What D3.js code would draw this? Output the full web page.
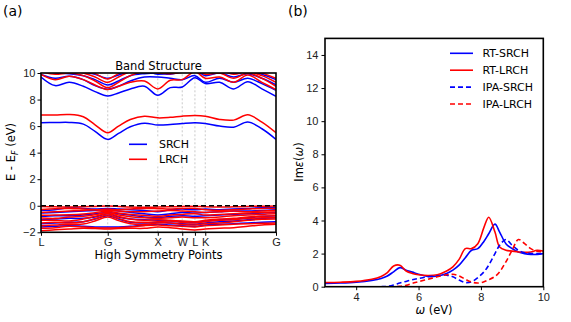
<!DOCTYPE html>
<html>
<head>
<meta charset="utf-8">
<script src="https://cdn.jsdelivr.net/npm/d3@7"></script>
<style>
  body { margin: 0; background: #fff; }
  svg { display: block; font-family: "DejaVu Sans", sans-serif; }
  .tick text { font-size: 11px; fill: #222; }
</style>
</head>
<body>
<svg id="chart" width="571" height="322"></svg>
<script>
// --- band structure data (path coordinate 0..1) ---
const kTicks = [0, 0.284, 0.497, 0.601, 0.655, 0.699, 1.0];
const kLabels = ["L", "G", "X", "W", "L", "K", "G"];
const kGrid = [0, 0.06, 0.12, 0.18, 0.23, 0.284, 0.33, 0.38, 0.44, 0.497, 0.55, 0.601, 0.655, 0.699, 0.76, 0.82, 0.88, 0.94, 1.0];

const srchConduction = [
  [6.26, 6.27, 6.28, 6.15, 5.6, 5.0, 5.45, 5.95, 6.22, 6.08, 6.12, 6.2, 6.26, 6.2, 6.0, 5.92, 6.3, 5.8, 5.0],
  [9.7, 9.05, 9.3, 9.0, 8.6, 8.27, 8.5, 8.8, 9.0, 8.32, 8.9, 8.95, 9.65, 9.2, 9.3, 8.8, 9.35, 8.8, 8.25],
  [9.9, 9.6, 9.75, 9.5, 9.05, 8.78, 9.0, 9.4, 9.7, 9.7, 9.6, 9.5, 9.8, 9.3, 9.6, 9.3, 9.6, 9.2, 8.7],
  [10.1, 10.0, 9.95, 9.8, 9.5, 9.1, 9.4, 9.8, 9.95, 10.0, 9.9, 10.1, 10.2, 9.8, 10.0, 9.7, 9.95, 9.6, 9.1],
  [10.4, 10.2, 10.1, 10.05, 9.9, 9.6, 9.85, 10.1, 10.2, 9.9, 10.05, 10.3, 10.4, 10.1, 10.2, 9.95, 10.2, 9.9, 9.5]
];
const lrchConduction = [
  [6.84, 6.84, 6.87, 6.7, 6.1, 5.5, 6.0, 6.5, 6.75, 6.62, 6.66, 6.75, 6.8, 6.75, 6.5, 6.45, 6.85, 6.3, 5.5],
  [9.9, 9.5, 9.75, 9.5, 9.1, 8.75, 9.0, 9.3, 9.4, 8.8, 9.45, 9.5, 10.1, 9.6, 9.7, 9.3, 9.85, 9.3, 8.75],
  [10.1, 9.9, 10.0, 9.8, 9.4, 8.9, 9.3, 9.8, 10.1, 10.0, 9.95, 10.05, 10.3, 9.9, 10.0, 9.6, 10.0, 9.6, 9.0],
  [10.3, 10.2, 10.2, 10.0, 9.7, 9.3, 9.7, 10.1, 10.3, 10.2, 10.2, 10.3, 10.4, 10.1, 10.2, 9.9, 10.1, 9.8, 9.3],
  [10.5, 10.3, 10.35, 10.2, 9.95, 9.55, 9.95, 10.3, 10.4, 10.35, 10.3, 10.45, 10.5, 10.25, 10.35, 10.05, 10.25, 10.0, 9.6]
];
const srchValence = [
  [-0.35, -0.3, -0.15, -0.2, -0.25, -0.2, -0.25, -0.3, -0.35, -0.45, -0.3, -0.25, -0.3, -0.25, -0.3, -0.25, -0.2, -0.15, -0.15],
  [-0.55, -0.5, -0.45, -0.4, -0.35, -0.3, -0.4, -0.5, -0.6, -0.7, -0.6, -0.5, -0.55, -0.5, -0.45, -0.4, -0.4, -0.35, -0.3],
  [-0.8, -0.75, -0.75, -0.7, -0.6, -0.5, -0.6, -0.7, -0.85, -0.9, -0.8, -0.75, -0.8, -0.75, -0.7, -0.65, -0.6, -0.55, -0.5],
  [-1.05, -1.0, -0.95, -0.95, -0.85, -0.6, -0.85, -1.0, -1.05, -1.1, -1.15, -1.2, -1.25, -1.15, -1.05, -1.0, -0.9, -0.8, -0.75],
  [-1.35, -1.3, -1.25, -1.2, -1.0, -0.75, -1.0, -1.25, -1.3, -1.25, -1.3, -1.35, -1.4, -1.3, -1.2, -1.15, -1.05, -0.95, -0.9],
  [-1.6, -1.55, -1.5, -1.55, -1.6, -1.6, -1.6, -1.55, -1.45, -1.4, -1.45, -1.5, -1.55, -1.45, -1.4, -1.35, -1.3, -1.25, -1.2]
];
const lrchValence = [
  [-0.05, -0.08, -0.1, -0.08, -0.05, -0.02, -0.05, -0.1, -0.12, -0.1, -0.08, -0.05, -0.05, -0.08, -0.1, -0.08, -0.05, -0.04, -0.02],
  [-0.28, -0.22, -0.2, -0.25, -0.3, -0.25, -0.3, -0.25, -0.2, -0.22, -0.25, -0.2, -0.2, -0.3, -0.35, -0.3, -0.25, -0.2, -0.2],
  [-0.5, -0.45, -0.4, -0.35, -0.3, -0.35, -0.4, -0.45, -0.45, -0.4, -0.35, -0.4, -0.45, -0.5, -0.45, -0.4, -0.45, -0.4, -0.35],
  [-0.72, -0.7, -0.68, -0.62, -0.52, -0.42, -0.55, -0.65, -0.72, -0.8, -0.7, -0.65, -0.6, -0.7, -0.65, -0.6, -0.55, -0.5, -0.48],
  [-0.92, -0.95, -0.85, -0.8, -0.68, -0.5, -0.7, -0.82, -0.9, -0.95, -0.9, -0.85, -0.9, -0.9, -0.85, -0.75, -0.7, -0.65, -0.6],
  [-1.1, -1.1, -1.15, -1.0, -0.8, -0.58, -0.8, -1.0, -1.1, -1.05, -1.1, -1.15, -1.2, -1.1, -1.0, -0.95, -0.85, -0.8, -0.75],
  [-1.3, -1.25, -1.3, -1.2, -0.98, -0.7, -0.95, -1.2, -1.25, -1.2, -1.15, -1.25, -1.3, -1.2, -1.1, -1.05, -0.95, -0.9, -0.88],
  [-1.5, -1.45, -1.4, -1.38, -1.15, -0.85, -1.12, -1.35, -1.4, -1.3, -1.3, -1.4, -1.45, -1.35, -1.3, -1.2, -1.1, -1.02, -1.0],
  [-1.7, -1.65, -1.55, -1.6, -1.65, -1.67, -1.65, -1.6, -1.5, -1.45, -1.5, -1.55, -1.6, -1.5, -1.45, -1.4, -1.35, -1.32, -1.3],
  [-1.88, -1.8, -1.75, -1.7, -1.72, -1.75, -1.72, -1.7, -1.7, -1.6, -1.65, -1.75, -1.82, -1.75, -1.7, -1.65, -1.55, -1.45, -1.4]
];

// --- optical spectra data ---
const omega = [3.0, 3.5, 4.0, 4.5, 4.8, 5.0, 5.2, 5.4, 5.6, 5.8, 6.0, 6.3, 6.6, 6.9, 7.1, 7.3, 7.5, 7.7, 7.9, 8.1, 8.25, 8.45, 8.6, 8.8, 9.0, 9.2, 9.4, 9.6, 9.8, 10.0];
const rtSrch  = [0.2, 0.22, 0.27, 0.38, 0.5, 0.65, 0.9, 1.15, 1.0, 0.88, 0.75, 0.62, 0.65, 0.8, 1.0, 1.3, 1.75, 2.2, 2.3, 2.75, 3.2, 3.78, 3.3, 2.6, 2.3, 2.1, 2.0, 1.95, 1.95, 2.0];
const rtLrch  = [0.25, 0.27, 0.32, 0.45, 0.62, 0.85, 1.25, 1.3, 0.95, 0.8, 0.72, 0.68, 0.72, 0.95, 1.2, 1.65, 2.3, 2.3, 2.6, 3.6, 4.2, 3.3, 2.4, 2.2, 2.15, 2.1, 2.08, 2.1, 2.2, 2.15];
const ipaSrch = [0.0, 0.0, 0.0, 0.0, 0.0, 0.02, 0.1, 0.22, 0.32, 0.42, 0.5, 0.6, 0.65, 0.7, 0.6, 0.4, 0.25, 0.3, 0.55, 0.9, 1.3, 2.0, 2.5, 2.85, 2.5, 2.2, 2.05, 2.0, 2.0, 2.0];
const ipaLrch = [0.0, 0.0, 0.0, 0.0, 0.0, 0.0, 0.0, 0.02, 0.08, 0.2, 0.3, 0.45, 0.6, 0.72, 0.75, 0.65, 0.45, 0.28, 0.22, 0.3, 0.42, 0.62, 0.9, 1.5, 2.2, 2.85, 2.6, 2.3, 2.15, 2.1];

const svg = d3.select("#chart");
const blue = "#0000ff";
const red = "#ff0000";

// ================= panel (a) =================
const xa = d3.scaleLinear().domain([0, 1]).range([41, 276]);
const ya = d3.scaleLinear().domain([-2, 10]).range([232.3, 73]);

svg.append("defs").append("clipPath").attr("id", "clipA")
  .append("rect").attr("x", 41).attr("y", 73).attr("width", 235).attr("height", 159.3);

const gA = svg.append("g");

gA.selectAll("line.kline")
  .data(kTicks.slice(1, -1))
  .join("line")
  .attr("class", "kline")
  .attr("x1", (d) => xa(d)).attr("x2", (d) => xa(d))
  .attr("y1", ya(-2)).attr("y2", ya(10))
  .attr("stroke", "#bbb").attr("stroke-width", 0.8).attr("stroke-dasharray", "2,2");

const bandLine = d3.line()
  .x((d, i) => xa(kGrid[i]))
  .y((d) => ya(d))
  .curve(d3.curveCatmullRom.alpha(0.5));

const bands = gA.append("g").attr("clip-path", "url(#clipA)");
bands.selectAll("path.srch")
  .data([...srchConduction, ...srchValence])
  .join("path")
  .attr("class", "srch")
  .attr("d", bandLine)
  .attr("fill", "none").attr("stroke", blue).attr("stroke-width", 1.5);
bands.selectAll("path.lrch")
  .data([...lrchConduction, ...lrchValence])
  .join("path")
  .attr("class", "lrch")
  .attr("d", bandLine)
  .attr("fill", "none").attr("stroke", red).attr("stroke-width", 1.5);

gA.append("line")
  .attr("x1", xa(0)).attr("x2", xa(1))
  .attr("y1", ya(0)).attr("y2", ya(0))
  .attr("stroke", "#000").attr("stroke-width", 1.5).attr("stroke-dasharray", "5,3");

gA.append("g")
  .attr("transform", `translate(0,${ya(-2)})`)
  .call(d3.axisBottom(xa).tickValues(kTicks).tickFormat((d, i) => kLabels[i]).tickSizeInner(3.5).tickSizeOuter(0).tickPadding(2))
  .call((g) => g.select(".domain").remove());

gA.append("g")
  .attr("transform", `translate(${xa(0)},0)`)
  .call(d3.axisLeft(ya).tickValues([-2, 0, 2, 4, 6, 8, 10]).tickFormat((d) => (d < 0 ? "\u2212" + Math.abs(d) : d)).tickSizeInner(3.5).tickSizeOuter(0).tickPadding(2))
  .call((g) => g.select(".domain").remove());

gA.append("rect")
  .attr("x", 41).attr("y", 73).attr("width", 235).attr("height", 159.3)
  .attr("fill", "none").attr("stroke", "#000").attr("stroke-width", 1.6);

gA.append("text").attr("x", 158.5).attr("y", 69.5).attr("text-anchor", "middle")
  .attr("font-size", 11.5).text("Band Structure");
gA.append("text").attr("x", 158.5).attr("y", 259).attr("text-anchor", "middle")
  .attr("font-size", 11.5).text("High Symmetry Points");
const yLabA = gA.append("text").attr("transform", "translate(15,152) rotate(-90)")
  .attr("text-anchor", "middle").attr("font-size", 11.5);
yLabA.append("tspan").text("E - E");
yLabA.append("tspan").attr("font-size", 8).attr("font-style", "italic").attr("dy", 2.5).text("F");
yLabA.append("tspan").attr("dy", -2.5).text(" (eV)");

const legA = [{ name: "SRCH", color: blue }, { name: "LRCH", color: red }];
const legAg = gA.selectAll("g.leg").data(legA).join("g").attr("class", "leg")
  .attr("transform", (d, i) => `translate(129,${144.3 + i * 15})`);
legAg.append("rect").attr("x", -3).attr("y", -7).attr("width", 58).attr("height", 14).attr("fill", "#fff").attr("opacity", 0.8);
legAg.append("line").attr("x1", 0).attr("x2", 18).attr("stroke", (d) => d.color).attr("stroke-width", 1.6);
legAg.append("text").attr("x", 30).attr("y", 4).attr("font-size", 11).text((d) => d.name);

// ================= panel (b) =================
const xb = d3.scaleLinear().domain([3, 10]).range([325, 543.3]);
const yb = d3.scaleLinear().domain([0, 15]).range([286.7, 38.4]);

svg.append("defs").append("clipPath").attr("id", "clipB")
  .append("rect").attr("x", 325).attr("y", 38.4).attr("width", 218.3).attr("height", 248.3);

const gB = svg.append("g");
const specLine = d3.line()
  .x((d, i) => xb(omega[i]))
  .y((d) => yb(d))
  .curve(d3.curveCatmullRom.alpha(0.5));

const spectra = [
  { name: "RT-SRCH", values: rtSrch, color: blue, dash: null },
  { name: "RT-LRCH", values: rtLrch, color: red, dash: null },
  { name: "IPA-SRCH", values: ipaSrch, color: blue, dash: "5,3" },
  { name: "IPA-LRCH", values: ipaLrch, color: red, dash: "5,3" }
];

gB.append("g").attr("clip-path", "url(#clipB)")
  .selectAll("path")
  .data(spectra)
  .join("path")
  .attr("d", (d) => specLine(d.values))
  .attr("fill", "none")
  .attr("stroke", (d) => d.color)
  .attr("stroke-width", 1.6)
  .attr("stroke-dasharray", (d) => d.dash);

gB.append("g")
  .attr("transform", `translate(0,${yb(0)})`)
  .call(d3.axisBottom(xb).tickValues([4, 6, 8, 10]).tickFormat(d3.format("d")).tickSizeInner(3.5).tickSizeOuter(0).tickPadding(3))
  .call((g) => g.select(".domain").remove());

gB.append("g")
  .attr("transform", `translate(${xb(3)},0)`)
  .call(d3.axisLeft(yb).tickValues([0, 2, 4, 6, 8, 10, 12, 14]).tickFormat(d3.format("d")).tickSizeInner(3.5).tickSizeOuter(0).tickPadding(3))
  .call((g) => g.select(".domain").remove());

gB.append("rect")
  .attr("x", 325).attr("y", 38.4).attr("width", 218.3).attr("height", 248.3)
  .attr("fill", "none").attr("stroke", "#000").attr("stroke-width", 1.6);

const xLabB = gB.append("text").attr("x", 434).attr("y", 313.5).attr("text-anchor", "middle").attr("font-size", 11.5);
xLabB.append("tspan").attr("font-style", "italic").text("\u03c9");
xLabB.append("tspan").text(" (eV)");

const yLabB = gB.append("text").attr("transform", "translate(303,162) rotate(-90)")
  .attr("text-anchor", "middle").attr("font-size", 11.5);
yLabB.append("tspan").text("Im");
yLabB.append("tspan").attr("font-style", "italic").text("\u03b5");
yLabB.append("tspan").text("(");
yLabB.append("tspan").attr("font-style", "italic").text("\u03c9");
yLabB.append("tspan").text(")");

const legBg = gB.selectAll("g.leg").data(spectra).join("g").attr("class", "leg")
  .attr("transform", (d, i) => `translate(450,${53.3 + i * 16.9})`);
legBg.append("line").attr("x1", 0).attr("x2", 23).attr("stroke", (d) => d.color)
  .attr("stroke-width", 1.6).attr("stroke-dasharray", (d) => d.dash);
legBg.append("text").attr("x", 32.5).attr("y", 4).attr("font-size", 11).text((d) => d.name);

// panel letters
svg.append("text").attr("x", 3).attr("y", 16).attr("font-size", 14).text("(a)");
svg.append("text").attr("x", 288).attr("y", 16).attr("font-size", 14).text("(b)");
</script>
</body>
</html>
